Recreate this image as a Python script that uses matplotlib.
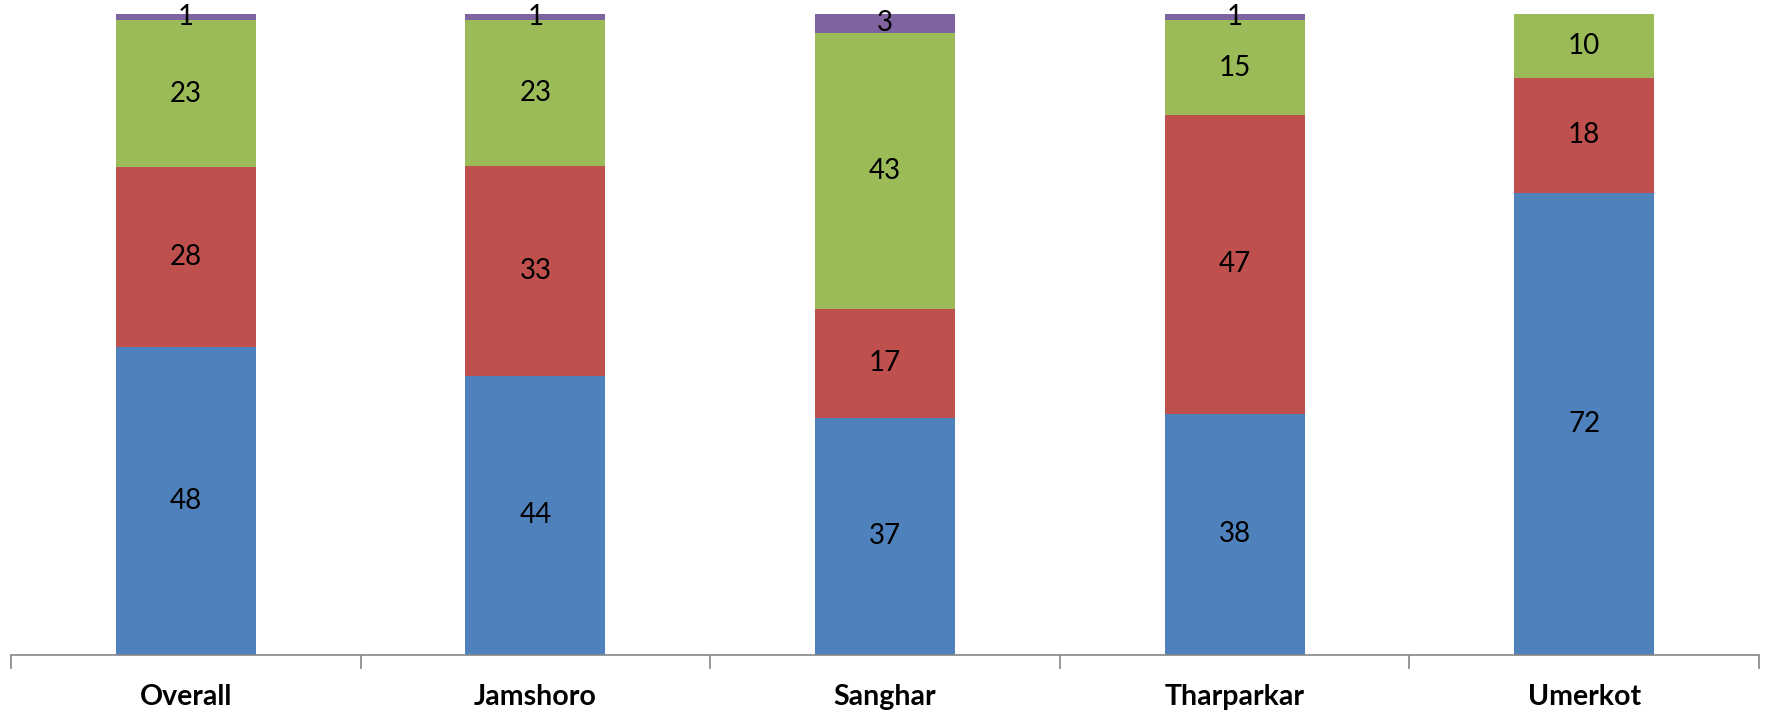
import matplotlib
matplotlib.use('Agg')
import matplotlib.pyplot as plt
import numpy as np

districts = ['Overall', 'Jamshoro', 'Sanghar', 'Tharparkar', 'Umerkot']
series1 = [48, 44, 37, 38, 72]
series2 = [28, 33, 17, 47, 18]
series3 = [23, 23, 43, 15, 10]
series4 = [1, 1, 3, 1, 0]

colors = ['#4F81BD', '#C0504D', '#9BBB59', '#8064A2']


def main():
    data = np.array([series1, series2, series3, series4], dtype=float)
    totals = data.sum(axis=0)
    shares = data / totals  # 100% stacked, like Excel

    fig = plt.figure(figsize=(17.67, 7.12), dpi=100)
    ax = fig.add_axes([0.0062, 0.080, 0.9893, 0.901])

    x = np.arange(len(districts))
    bottom = np.zeros(len(districts))
    for vals, raw, col in zip(shares, data, colors):
        ax.bar(x, vals, 0.4, bottom=bottom, color=col, linewidth=0)
        for xi, v, r, b in zip(x, vals, raw, bottom):
            if r > 0:
                ax.text(xi, b + v / 2, f'{int(r)}', ha='center', va='center',
                        fontsize=20, family='Lato', color='black')
        bottom += vals

    ax.set_xlim(-0.5, len(districts) - 0.5)
    ax.set_ylim(0, 1)
    ax.set_yticks([])
    for s in ['top', 'right', 'left']:
        ax.spines[s].set_visible(False)
    ax.spines['bottom'].set_color('#868686')
    ax.spines['bottom'].set_linewidth(1.2)

    ax.set_xticks(np.arange(-0.5, len(districts), 1.0))
    ax.set_xticklabels([])
    ax.tick_params(axis='x', which='major', length=10, color='#868686', width=1.2)
    ax.set_xticks(x, minor=True)
    ax.set_xticklabels(districts, minor=True, fontsize=20.5, fontweight='bold', family='Lato')
    ax.tick_params(axis='x', which='minor', length=0, pad=21)

    fig.savefig('out.png', dpi=100)
    plt.close(fig)


if __name__ == '__main__':
    main()
